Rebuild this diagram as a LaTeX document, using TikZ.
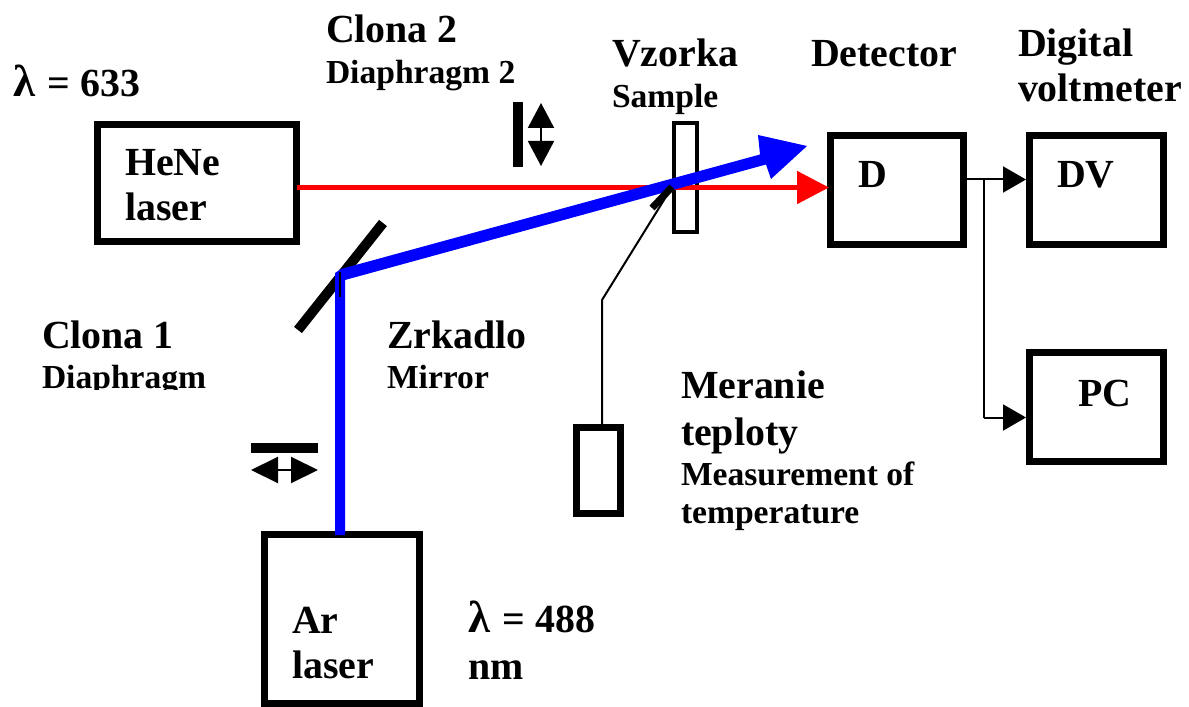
\documentclass[tikz,border=0pt]{standalone}
\usepackage{fontspec}
\setmainfont{Liberation Serif}
\usetikzlibrary{arrows.meta}
\newcommand{\bigtxt}{\fontsize{40}{40}\selectfont\bfseries}
\newcommand{\smalltxt}{\fontsize{33.7}{33.7}\selectfont\bfseries}
\newcommand{\lam}{{\fontsize{45}{40}\selectfont λ}\kern3bp}
\tikzset{
  x=1bp,y=-1bp,
  box/.style={draw=black,line width=7bp,fill=none,minimum width=#1,inner sep=0pt,outer sep=0pt},
  big/.style={anchor=base west,inner sep=0pt,outer sep=0pt,font=\bigtxt},
  small/.style={anchor=base west,inner sep=0pt,outer sep=0pt,font=\smalltxt},
  thinline/.style={line width=2bp,draw=black},
  sigarrow/.style={thinline,shorten >=3.5bp,-{Triangle[length=23bp,width=26bp]}},
  bar/.style={draw=none,fill=black},
  redbeam/.style={draw=red,line width=5bp,-{Triangle[length=32bp,width=32bp]}},
}
\begin{document}
\begin{tikzpicture}
\useasboundingbox (0,0) rectangle (1189,707);
% boxes
\node[box=199bp,minimum height=117bp] (hene) at (197,183) {};
\node[box=155bp,minimum height=168.5bp] (ar) at (342,618.75) {};
\node[box=133bp,minimum height=108.5bp] (d) at (897,190) {};
\node[box=134bp,minimum height=108.5bp] (dv) at (1096.5,190) {};
\node[box=134bp,minimum height=108.5bp] (pc) at (1096.5,407) {};
\node[draw=black,line width=4bp,minimum width=23bp,minimum height=109bp,inner sep=0pt,outer sep=0pt] (sample) at (685.5,177.5) {};
\node[box=44bp,minimum height=86bp] (thermo) at (598.5,470.5) {};
% coordinates
\coordinate (mirrorA) at (298,330);
\coordinate (mirrorB) at (383,223);
\coordinate (redStart) at (297,187.5);
\coordinate (redEnd) at (829,187.5);
\coordinate (sensorA) at (652,208);
\coordinate (sensorB) at (672,187);
\coordinate (bend) at (602,300);
\coordinate (jn) at (984,179.5);
\coordinate (jp) at (984,417.5);
% mirror
\draw[black,line width=10bp] (mirrorA) -- (mirrorB);
% red beam
\draw[redbeam] (redStart) -- (redEnd);
% blue beam
\fill[blue] (335,535) -- (335,273) -- (341,269) -- (760,154.5) -- (758,135) -- (807,146) -- (771,179) -- (766,164.5) -- (345,280) -- (345,535) -- cycle;
\draw[thinline] (340,272) -- (340,297);
% sensor
\draw[black,line width=7bp] (sensorA) -- (sensorB);
\draw[thinline] (thermo.north -| bend) -- (bend) -- (sensorB);
% signal
\draw[sigarrow] (d.east |- jn) -- (dv.west |- jn);
\draw[thinline] (jn) -- (jp);
\draw[sigarrow] (jp) -- (pc.west |- jp);
% diaphragm 2
\fill[bar] (513,102) rectangle (523,167);
\draw[line width=2bp,{Triangle[length=25bp,width=26bp]}-{Triangle[length=25bp,width=26bp]}] (541,103) -- (541,166);
% diaphragm 1
\fill[bar] (251,443) rectangle (318,453);
\draw[line width=2bp,{Triangle[length=27bp,width=26bp]}-{Triangle[length=27bp,width=26bp]}] (251,470) -- (318,470);
% text
\node[big] (t1) at (13,97) {\lam{} = 633};
\node[big] (t2) at (326,43) {Clona 2};
\node[small] (t3) at (326,84) {Diaphragm 2};
\node[big] (t4) at (612,67) {Vzorka};
\node[small] (t5) at (612,108) {Sample};
\node[big] (t6) at (811,67) {Detector};
\node[big] (t7) at (1018,57) {Digital};
\node[big] (t8) at (1018,102) {voltmeter};
\node[big] (t9) at (125,176) {HeNe};
\node[big] (t10) at (125,221) {laser};
\node[big] (t11) at (858,188) {D};
\node[big] (t12) at (1057,188) {DV};
\node[big] (t13) at (1078,406) {PC};
\node[big] (t14) at (42,348) {Clona 1};
\begin{scope}
\clip (30,350) rectangle (220,389);
\node[small] (t15) at (42,388) {Diaphragm};
\end{scope}
\node[big] (t16) at (387,348) {Zrkadlo};
\node[small] (t17) at (387,388) {Mirror};
\node[big] (t18) at (681,398) {Meranie};
\node[big] (t19) at (681,445) {teploty};
\node[small] (t20) at (681,485) {Measurement of};
\node[small] (t21) at (681,523) {temperature};
\node[big] (t22) at (292,633) {Ar};
\node[big] (t23) at (292,678) {laser};
\node[big] (t24) at (468,632) {\lam{} = 488};
\node[big] (t25) at (468,679) {nm};
\end{tikzpicture}
\end{document}
